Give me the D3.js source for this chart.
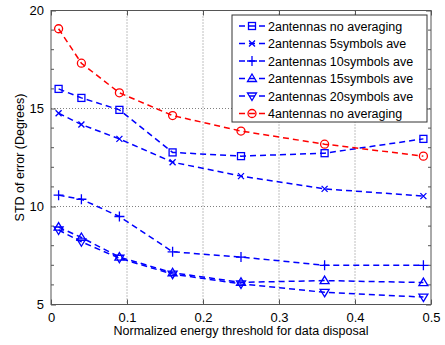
<!DOCTYPE html>
<html>
<head>
<meta charset="utf-8">
<script src="https://cdn.jsdelivr.net/npm/d3@7"></script>
<style>
  body { margin: 0; background: #fff; }
  text { font-family: "Liberation Sans", Arial, sans-serif; }
</style>
</head>
<body>
<div id="chart"></div>
<script>
// data
const thresholds = [0.01, 0.04, 0.09, 0.16, 0.25, 0.36, 0.49];

const seriesNames = [
    "2antennas no averaging",
    "2antennas 5symbols ave",
    "2antennas 10symbols ave",
    "2antennas 15symbols ave",
    "2antennas 20symbols ave",
    "4antennas no averaging"
];
const seriesColors = ["#0000ff", "#0000ff", "#0000ff", "#0000ff", "#0000ff", "#ff0000"];
const seriesMarkers = ["square", "x", "plus", "triUp", "triDown", "circle"];

const noAve2 = [16.0, 15.54, 14.93, 12.76, 12.57, 12.72, 13.45];
const ave5 = [14.76, 14.18, 13.45, 12.26, 11.55, 10.9, 10.53];
const ave10 = [10.58, 10.37, 9.49, 7.69, 7.42, 7.0, 7.0];
const ave15 = [8.95, 8.42, 7.42, 6.62, 6.13, 6.22, 6.12];
const ave20 = [8.8, 8.2, 7.36, 6.55, 6.05, 5.62, 5.38];
const noAve4 = [19.07, 17.31, 15.8, 14.64, 13.85, 13.18, 12.57];

const seriesValues = [noAve2, ave5, ave10, ave15, ave20, noAve4];

const xTicks = [0, 0.1, 0.2, 0.3, 0.4, 0.5];
const yTicks = [5, 10, 15, 20];
const yMinor = d3.range(5, 21, 1);

const W = 445, H = 345;
const margin = {top: 10.5, right: 14, bottom: 40.5, left: 51};
const width = W - margin.left - margin.right;
const height = H - margin.top - margin.bottom;

const svg = d3.select("#chart").append("svg")
    .attr("width", W)
    .attr("height", H);

const g = svg.append("g")
    .attr("transform", "translate(" + margin.left + "," + margin.top + ")");

const x = d3.scaleLinear().domain([0, 0.5]).range([0, width]);
const y = d3.scaleLinear().domain([5, 20]).range([height, 0]);

// grid
g.append("g").selectAll("line")
    .data(xTicks.slice(1, -1))
    .enter().append("line")
    .attr("x1", d => x(d)).attr("x2", d => x(d))
    .attr("y1", 0).attr("y2", height)
    .attr("stroke", "#808080").attr("stroke-width", 1)
    .attr("stroke-dasharray", "1,2");

g.append("g").selectAll("line")
    .data(yTicks.slice(1, -1))
    .enter().append("line")
    .attr("x1", 0).attr("x2", width)
    .attr("y1", d => y(d)).attr("y2", d => y(d))
    .attr("stroke", "#808080").attr("stroke-width", 1)
    .attr("stroke-dasharray", "1,2");

// axes with inward ticks
const tickStyle = a => a.selectAll("line").attr("stroke", "#555");
const xBottom = g.append("g").attr("transform", "translate(0," + height + ")")
    .call(d3.axisBottom(x).tickValues(xTicks).tickSize(-5).tickPadding(8).tickFormat(d3.format("")));
const xTop = g.append("g")
    .call(d3.axisTop(x).tickValues(xTicks).tickSize(-5).tickFormat(""));
const yLeft = g.append("g")
    .call(d3.axisLeft(y).tickValues(yTicks).tickSize(-5).tickPadding(7));
const yRight = g.append("g").attr("transform", "translate(" + width + ",0)")
    .call(d3.axisRight(y).tickValues(yTicks).tickSize(-5).tickFormat(""));

[xBottom, xTop, yLeft, yRight].forEach(a => {
    a.select(".domain").remove();
    tickStyle(a);
    a.selectAll("text").attr("font-size", 13).attr("fill", "#000")
        .attr("font-family", "Liberation Sans, Arial, sans-serif");
});

// minor y ticks
[0, width].forEach(px => {
    g.append("g").selectAll("line")
        .data(yMinor.filter(v => yTicks.indexOf(v) < 0))
        .enter().append("line")
        .attr("x1", px).attr("x2", px === 0 ? 3 : width - 3)
        .attr("y1", d => y(d)).attr("y2", d => y(d))
        .attr("stroke", "#555");
});

// frame
g.append("rect")
    .attr("width", width).attr("height", height)
    .attr("fill", "none").attr("stroke", "#555").attr("stroke-width", 1);

// markers
function drawMarker(sel, type, color) {
    const s = 3.5;
    if (type === "square") {
        sel.append("rect").attr("x", -s).attr("y", -s).attr("width", 2 * s).attr("height", 2 * s)
            .attr("fill", "none").attr("stroke", color).attr("stroke-width", 1.3);
    } else if (type === "circle") {
        sel.append("circle").attr("r", 4)
            .attr("fill", "none").attr("stroke", color).attr("stroke-width", 1.3);
    } else if (type === "x") {
        sel.append("path").attr("d", "M-3,-3L3,3M-3,3L3,-3")
            .attr("stroke", color).attr("stroke-width", 1.3);
    } else if (type === "plus") {
        sel.append("path").attr("d", "M-5,0L5,0M0,-5L0,5")
            .attr("stroke", color).attr("stroke-width", 1.3);
    } else if (type === "triUp") {
        sel.append("path").attr("d", "M0,-4.5L4.5,3L-4.5,3Z")
            .attr("fill", "none").attr("stroke", color).attr("stroke-width", 1.3);
    } else if (type === "triDown") {
        sel.append("path").attr("d", "M0,4.5L4.5,-3L-4.5,-3Z")
            .attr("fill", "none").attr("stroke", color).attr("stroke-width", 1.3);
    }
}

const line = d3.line()
    .x(d => x(d[0]))
    .y(d => y(d[1]));

seriesValues.forEach((vals, i) => {
    const pts = thresholds.map((t, j) => [t, vals[j]]);
    g.append("path")
        .datum(pts)
        .attr("d", line)
        .attr("fill", "none")
        .attr("stroke", seriesColors[i])
        .attr("stroke-width", 1.5)
        .attr("stroke-dasharray", "6,4");
    pts.forEach(p => {
        const m = g.append("g").attr("transform", "translate(" + x(p[0]) + "," + y(p[1]) + ")");
        drawMarker(m, seriesMarkers[i], seriesColors[i]);
    });
});

// legend
const lx = 232 - margin.left, ly = 15 - margin.top;
const legend = g.append("g").attr("transform", "translate(" + lx + "," + ly + ")");
legend.append("rect")
    .attr("width", 195).attr("height", 107)
    .attr("fill", "#fff").attr("stroke", "#333").attr("stroke-width", 1);

seriesNames.forEach((name, i) => {
    const row = legend.append("g").attr("transform", "translate(0," + (11 + i * 17.5) + ")");
    row.append("line").attr("x1", 7).attr("x2", 33).attr("y1", 0).attr("y2", 0)
        .attr("stroke", seriesColors[i]).attr("stroke-width", 1.5)
        .attr("stroke-dasharray", "6,4");
    const m = row.append("g").attr("transform", "translate(20,0)");
    drawMarker(m, seriesMarkers[i], seriesColors[i]);
    row.append("text").attr("x", 36).attr("y", 4.5)
        .attr("font-size", 12.5).attr("fill", "#000").text(name);
});

// axis labels
svg.append("text")
    .attr("x", margin.left + width / 2).attr("y", 335)
    .attr("text-anchor", "middle").attr("font-size", 12.5)
    .text("Normalized energy threshold for data disposal");

svg.append("text")
    .attr("transform", "translate(24," + (margin.top + height / 2) + ") rotate(-90)")
    .attr("text-anchor", "middle").attr("font-size", 12.5)
    .text("STD of error (Degrees)");
</script>
</body>
</html>
